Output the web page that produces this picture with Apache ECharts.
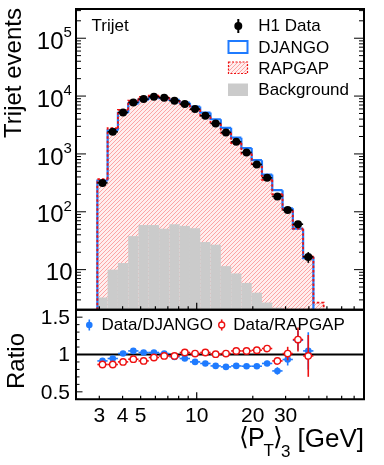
<!DOCTYPE html>
<html><head><meta charset="utf-8">
<script src="https://cdn.jsdelivr.net/npm/echarts@6/dist/echarts.min.js"></script>
<style>html,body{margin:0;padding:0;background:#fff}#c{width:384px;height:465px}</style>
</head><body><div id="c"></div>
<script>
// ---------- data ----------
const binEdges = [2.928, 3.324, 3.776, 4.288, 4.869, 5.529, 6.280, 7.131, 8.098, 9.199, 10.44, 11.86, 13.47, 15.30, 17.37, 19.73, 22.40, 25.44, 28.89, 32.81, 37.26, 42.31, 48.05];
const dataVals = [316, 2410, 5220, 7780, 8870, 9720, 9350, 8300, 7280, 5950, 4560, 3370, 2355, 1620, 1062, 658, 386, 184, 107, 61, 16.6];
const dataErr  = [18, 49, 72, 88, 94, 99, 97, 91, 85, 77, 68, 58, 49, 40, 33, 26, 20, 14, 10, 8, 3.5];
const djangoVals = [346, 2548, 5153, 7424, 8637, 9464, 9230, 8574, 7696, 6604, 5182, 3979, 2824, 1913, 1260, 781, 439, 236, 115, 51, 15.8];
const rapgapVals = [365, 2783, 5794, 8303, 9705, 10125, 9531, 8461, 7089, 5874, 4440, 3357, 2325, 1546, 1013, 622, 357, 201, 106, 51, 16.9, 2.7];
const bgVals = [3.3, 10, 13, 38, 59, 59, 51, 61, 57, 52, 30, 27, 11.5, 8.6, 5.9, 4.0, 2.7, 2.2, 0, 0, 0];
const ratioDjango    = [0.914, 0.946, 1.013, 1.048, 1.027, 1.027, 1.013, 0.968, 0.946, 0.901, 0.880, 0.847, 0.834, 0.847, 0.843, 0.843, 0.880, 0.780, 0.933, 1.191, 1.048];
const ratioDjangoErr = [0.012, 0.012, 0.01, 0.01, 0.01, 0.01, 0.01, 0.01, 0.01, 0.012, 0.014, 0.016, 0.02, 0.022, 0.026, 0.03, 0.035, 0.05, 0.08, 0.13, 0.25];
const ratioRapgap    = [0.866, 0.866, 0.901, 0.937, 0.914, 0.960, 0.981, 0.981, 1.027, 1.013, 1.027, 1.004, 1.013, 1.048, 1.048, 1.058, 1.080, 0.914, 1.013, 1.200, 0.981];
const ratioRapgapErr = [0.012, 0.012, 0.01, 0.01, 0.01, 0.01, 0.01, 0.01, 0.01, 0.012, 0.014, 0.016, 0.02, 0.022, 0.026, 0.03, 0.04, 0.05, 0.09, 0.16, 0.28];
const xTickVals  = [3, 4, 5, 6, 7, 8, 9, 10, 20, 30, 40, 50, 60, 70];
const xLabelVals = [3, 4, 5, 10, 20, 30];
const yMajorVals = [10, 100, 1000, 10000, 100000];
const ratioTickVals  = [0.4, 0.5, 0.6, 0.7, 0.8, 0.9, 1.0, 1.1, 1.2, 1.3, 1.4, 1.5, 1.6];
const ratioLabelVals = [0.5, 1, 1.5];

// ---------- layout / style ----------
const X_MIN = 2.249, X_MAX = 79.07;
const Y_MIN = 2.03, Y_MAX = 3.2e5;
const R_MIN = 0.4, R_MAX = 1.6;
const FONT = "'Liberation Sans', 'DejaVu Sans', Arial, sans-serif";
const BLUE = '#1f7bff', RED = '#ee1111', GREY = '#cbcbcb';
const HATCH = 'rgba(245,60,60,0.42)', HATCH_BG = 'rgba(255,90,90,0.10)';
const G0 = {left: 76, top: 9, width: 288, height: 300.7};
const G1 = {left: 76, top: 309.7, width: 288, height: 89.6};

// "/" hatch lines inside a pixel rectangle, aligned to a global lattice
function hatchLines(x0, y0, x1, y1, step) {
  const out = [{type: 'rect', silent: true, shape: {x: x0, y: y0, width: x1 - x0, height: y1 - y0}, style: {fill: HATCH_BG}}];
  const cStart = Math.ceil((x0 + y0) / step) * step;
  for (let c = cStart; c <= x1 + y1; c += step) {
    const xa = Math.max(x0, c - y1), xb = Math.min(x1, c - y0);
    if (xb > xa) out.push({type: 'line', silent: true, shape: {x1: xa, y1: c - xa, x2: xb, y2: c - xb},
      style: {stroke: HATCH, lineWidth: 1}});
  }
  return out;
}

// minor/major tick lists for the log y axis
const yTickList = [];
for (let k = 0; k <= 5; k++) for (let m = 1; m <= 9; m++) {
  const v = m * Math.pow(10, k);
  if (v >= Y_MIN && v <= Y_MAX) yTickList.push([X_MIN, v, m === 1 ? 1 : 0]);
}

const base = {type: 'custom', silent: true, animation: false};

function hatchSeries(vals, z) {
  return Object.assign({}, base, {
    xAxisIndex: 0, yAxisIndex: 0, z: z,
    data: vals.map((v, i) => [binEdges[i], binEdges[i + 1], v]).filter(d => d[2] > 0),
    encode: {x: [0, 1], y: [2]},
    renderItem(p, api) {
      const a = api.coord([api.value(0), api.value(2)]);
      const b = api.coord([api.value(1), Y_MIN]);
      return {type: 'group', children: hatchLines(a[0], a[1], b[0], b[1], 4)};
    }
  });
}
function rectSeries(vals, fill, z) {
  return Object.assign({}, base, {
    xAxisIndex: 0, yAxisIndex: 0, z: z,
    data: vals.map((v, i) => [binEdges[i], binEdges[i + 1], v]).filter(d => d[2] > 0),
    encode: {x: [0, 1], y: [2]},
    renderItem(p, api) {
      const a = api.coord([api.value(0), api.value(2)]);
      const b = api.coord([api.value(1), Y_MIN]);
      return {type: 'rect', shape: {x: a[0], y: a[1], width: b[0] - a[0], height: b[1] - a[1]}, style: {fill: fill}};
    }
  });
}
function stepSeries(vals, color, width, dash, z) {
  const n = vals.length;
  return Object.assign({}, base, {
    xAxisIndex: 0, yAxisIndex: 0, z: z,
    data: vals.map((v, i) => [binEdges[i], binEdges[i + 1], v, i > 0 ? vals[i - 1] : Y_MIN, i === n - 1 ? 1 : 0]),
    encode: {x: [0, 1], y: [2]},
    renderItem(p, api) {
      const lo = api.value(0), hi = api.value(1);
      const v = Math.max(api.value(2), Y_MIN), prev = Math.max(api.value(3), Y_MIN);
      const pts = [api.coord([lo, prev]), api.coord([lo, v]), api.coord([hi, v])];
      if (api.value(4)) pts.push(api.coord([hi, Y_MIN]));
      return {type: 'polyline', shape: {points: pts}, style: {stroke: color, lineWidth: width, lineDash: dash, fill: null}};
    }
  });
}
function pointSeries(vals, errs, xi, yi, color, open, r, z) {
  return Object.assign({}, base, {
    xAxisIndex: xi, yAxisIndex: yi, z: z,
    data: vals.map((v, i) => [binEdges[i], binEdges[i + 1], v, errs[i]]),
    encode: {x: [0, 1], y: [2]},
    renderItem(p, api) {
      const lo = api.value(0), hi = api.value(1), v = api.value(2), e = api.value(3);
      const xc = Math.sqrt(lo * hi);
      const c = api.coord([xc, v]);
      const l = api.coord([lo, v]), h = api.coord([hi, v]);
      const t = api.coord([xc, v + e]), b = api.coord([xc, v - e]);
      return {type: 'group', children: [
        {type: 'line', shape: {x1: l[0], y1: l[1], x2: h[0], y2: h[1]}, style: {stroke: color, lineWidth: 1.6}},
        {type: 'line', shape: {x1: t[0], y1: t[1], x2: b[0], y2: b[1]}, style: {stroke: color, lineWidth: 1.6}},
        {type: 'circle', shape: {cx: c[0], cy: c[1], r: r}, style: open ? {fill: '#fff', stroke: color, lineWidth: 1.4} : {fill: color}}
      ]};
    }
  });
}

const series = [
  hatchSeries(rapgapVals, 1),
  rectSeries(bgVals, GREY, 2),
  stepSeries(djangoVals, BLUE, 2.2, null, 3),
  stepSeries(rapgapVals, RED, 1.8, [2.5, 2], 4),
  pointSeries(dataVals, dataErr, 0, 0, '#000', false, 4, 5),
  // ratio line at 1
  Object.assign({}, base, {
    xAxisIndex: 1, yAxisIndex: 1, z: 3, data: [[X_MIN, 1]],
    renderItem(p, api) {
      const a = api.coord([X_MIN, 1]), b = api.coord([X_MAX, 1]);
      return {type: 'line', shape: {x1: a[0], y1: a[1], x2: b[0], y2: b[1]}, style: {stroke: '#000', lineWidth: 1.8}};
    }
  }),
  pointSeries(ratioDjango, ratioDjangoErr, 1, 1, BLUE, false, 3.3, 5),
  pointSeries(ratioRapgap, ratioRapgapErr, 1, 1, RED, true, 3.2, 6),
  // y ticks (top panel, both sides)
  Object.assign({}, base, {
    xAxisIndex: 0, yAxisIndex: 0, z: 10, data: yTickList,
    renderItem(p, api) {
      const v = api.value(1), len = api.value(2) ? 10 : 5;
      const a = api.coord([X_MIN, v]), b = api.coord([X_MAX, v]);
      return {type: 'group', children: [
        {type: 'line', shape: {x1: a[0], y1: a[1], x2: a[0] + len, y2: a[1]}, style: {stroke: '#000', lineWidth: 1}},
        {type: 'line', shape: {x1: b[0], y1: b[1], x2: b[0] - len, y2: b[1]}, style: {stroke: '#000', lineWidth: 1}}
      ]};
    }
  }),
  // y labels top
  Object.assign({}, base, {
    xAxisIndex: 0, yAxisIndex: 0, z: 10, data: yMajorVals.map(v => [X_MIN, v]),
    renderItem(p, api) {
      const v = api.value(1), e = Math.round(Math.log10(v));
      const a = api.coord([X_MIN, v]);
      if (e === 1) {
        return {type: 'text', x: a[0] - 3.5, y: a[1] + 4, style: {text: '10', fontSize: 24, fontFamily: FONT, fill: '#000', align: 'right', verticalAlign: 'middle'}};
      }
      return {type: 'group', children: [
        {type: 'text', x: a[0] - 12.5, y: a[1] + 4, style: {text: '10', fontSize: 24, fontFamily: FONT, fill: '#000', align: 'right', verticalAlign: 'middle'}},
        {type: 'text', x: a[0] - 12.5, y: a[1] - 5, style: {text: String(e), fontSize: 15, fontFamily: FONT, fill: '#000', align: 'left', verticalAlign: 'middle'}}
      ]};
    }
  }),
  // x ticks both panels
  Object.assign({}, base, {
    xAxisIndex: 0, yAxisIndex: 0, z: 10, data: xTickVals.map(v => [v, Y_MIN, v === 10 ? 1 : 0]),
    renderItem(p, api) {
      const a = api.coord([api.value(0), Y_MIN]), len = api.value(2) ? 7 : 3.5;
      return {type: 'line', shape: {x1: a[0], y1: a[1], x2: a[0], y2: a[1] - len}, style: {stroke: '#000', lineWidth: 1.2}};
    }
  }),
  Object.assign({}, base, {
    xAxisIndex: 1, yAxisIndex: 1, z: 10, data: xTickVals.map(v => [v, R_MIN, v === 10 ? 1 : 0]),
    renderItem(p, api) {
      const a = api.coord([api.value(0), R_MIN]), len = api.value(2) ? 7 : 3.5;
      return {type: 'line', shape: {x1: a[0], y1: a[1], x2: a[0], y2: a[1] - len}, style: {stroke: '#000', lineWidth: 1.2}};
    }
  }),
  // x labels
  Object.assign({}, base, {
    xAxisIndex: 1, yAxisIndex: 1, z: 10, data: xLabelVals.map(v => [v, R_MIN]),
    renderItem(p, api) {
      const a = api.coord([api.value(0), R_MIN]);
      return {type: 'text', x: a[0], y: a[1] + 17, style: {text: String(api.value(0)), fontSize: 21, fontFamily: FONT, fill: '#000', align: 'center', verticalAlign: 'middle'}};
    }
  }),
  // ratio y ticks
  Object.assign({}, base, {
    xAxisIndex: 1, yAxisIndex: 1, z: 10, data: ratioTickVals.map(v => [X_MIN, v, ratioLabelVals.indexOf(v) >= 0 ? 1 : 0]),
    renderItem(p, api) {
      const a = api.coord([X_MIN, api.value(1)]), len = api.value(2) ? 6.5 : 3.5;
      return {type: 'line', shape: {x1: a[0], y1: a[1], x2: a[0] + len, y2: a[1]}, style: {stroke: '#000', lineWidth: 1}};
    }
  }),
  Object.assign({}, base, {
    xAxisIndex: 1, yAxisIndex: 1, z: 10, data: ratioLabelVals.map(v => [X_MIN, v]),
    renderItem(p, api) {
      const a = api.coord([X_MIN, api.value(1)]);
      return {type: 'text', x: a[0] - 6, y: a[1] + 1, style: {text: String(api.value(1)), fontSize: 21, fontFamily: FONT, fill: '#000', align: 'right', verticalAlign: 'middle'}};
    }
  })
];

function txt(x, y, s, size, align, extra) {
  return Object.assign({type: 'text', x: x, y: y, z: 100, silent: true,
    style: {text: s, fontSize: size, fontFamily: FONT, fill: '#000', align: align || 'left', verticalAlign: 'middle'}}, extra || {});
}
const graphic = [
  {type: 'rect', z: 100, silent: true, shape: {x: G0.left, y: G0.top, width: G0.width, height: G0.height}, style: {fill: null, stroke: '#000', lineWidth: 2}},
  {type: 'rect', z: 100, silent: true, shape: {x: G1.left, y: G1.top, width: G1.width, height: G1.height}, style: {fill: null, stroke: '#000', lineWidth: 2}},
  txt(91.5, 26, 'Trijet', 17),
  // top legend
  {type: 'line', z: 100, silent: true, shape: {x1: 238.3, y1: 19, x2: 238.3, y2: 33}, style: {stroke: '#000', lineWidth: 2}},
  {type: 'circle', z: 100, silent: true, shape: {cx: 238.3, cy: 26, r: 4}, style: {fill: '#000'}},
  txt(258.3, 26.5, 'H1 Data', 17),
  {type: 'rect', z: 100, silent: true, shape: {x: 228.5, y: 41, width: 19, height: 12}, style: {fill: null, stroke: BLUE, lineWidth: 2}},
  txt(258.3, 48, 'DJANGO', 17),
  {type: 'group', z: 100, silent: true, children: hatchLines(228.5, 62, 247.5, 73.5, 4)},
  {type: 'rect', z: 100, silent: true, shape: {x: 228.5, y: 62, width: 19, height: 11.5}, style: {fill: null, stroke: RED, lineWidth: 1.2, lineDash: [2, 1.5]}},
  txt(258.3, 69, 'RAPGAP', 17),
  {type: 'rect', z: 100, silent: true, shape: {x: 228, y: 83.5, width: 20, height: 12.5}, style: {fill: GREY}},
  txt(258.3, 90.5, 'Background', 17),
  // ratio legend
  {type: 'line', z: 100, silent: true, shape: {x1: 89.3, y1: 319.5, x2: 89.3, y2: 330.5}, style: {stroke: BLUE, lineWidth: 1.6}},
  {type: 'circle', z: 100, silent: true, shape: {cx: 89.3, cy: 325, r: 3.3}, style: {fill: BLUE}},
  txt(101.5, 325.5, 'Data/DJANGO', 17),
  {type: 'line', z: 100, silent: true, shape: {x1: 221.7, y1: 319.5, x2: 221.7, y2: 330.5}, style: {stroke: RED, lineWidth: 1.6}},
  {type: 'circle', z: 100, silent: true, shape: {cx: 221.7, cy: 325, r: 3}, style: {fill: '#fff', stroke: RED, lineWidth: 1.4}},
  txt(233.3, 325.5, 'Data/RAPGAP', 17),
  // axis titles
  txt(14, 73, 'Trijet events', 24, 'center', {rotation: Math.PI / 2}),
  txt(17, 361, 'Ratio', 24, 'center', {rotation: Math.PI / 2}),
  txt(239, 438, '\u27E8', 25),
  txt(248, 439.5, 'P', 25),
  txt(263.5, 451, 'T', 17),
  txt(273, 438, '\u27E9', 25),
  txt(281, 452, '3', 17),
  txt(364, 439.5, '[GeV]', 26, 'right')
];

const axisOff = {axisLine: {show: false}, axisTick: {show: false}, axisLabel: {show: false}, splitLine: {show: false}};
const chart = echarts.init(document.getElementById('c'), null, {renderer: 'canvas'});
chart.setOption({
  animation: false,
  backgroundColor: '#fff',
  grid: [Object.assign({}, G0), Object.assign({}, G1)],
  xAxis: [
    Object.assign({type: 'log', logBase: 10, gridIndex: 0, min: X_MIN, max: X_MAX}, axisOff),
    Object.assign({type: 'log', logBase: 10, gridIndex: 1, min: X_MIN, max: X_MAX}, axisOff)
  ],
  yAxis: [
    Object.assign({type: 'log', logBase: 10, gridIndex: 0, min: Y_MIN, max: Y_MAX}, axisOff),
    Object.assign({type: 'value', gridIndex: 1, min: R_MIN, max: R_MAX}, axisOff)
  ],
  series: series,
  graphic: graphic
});
</script>
</body></html>
